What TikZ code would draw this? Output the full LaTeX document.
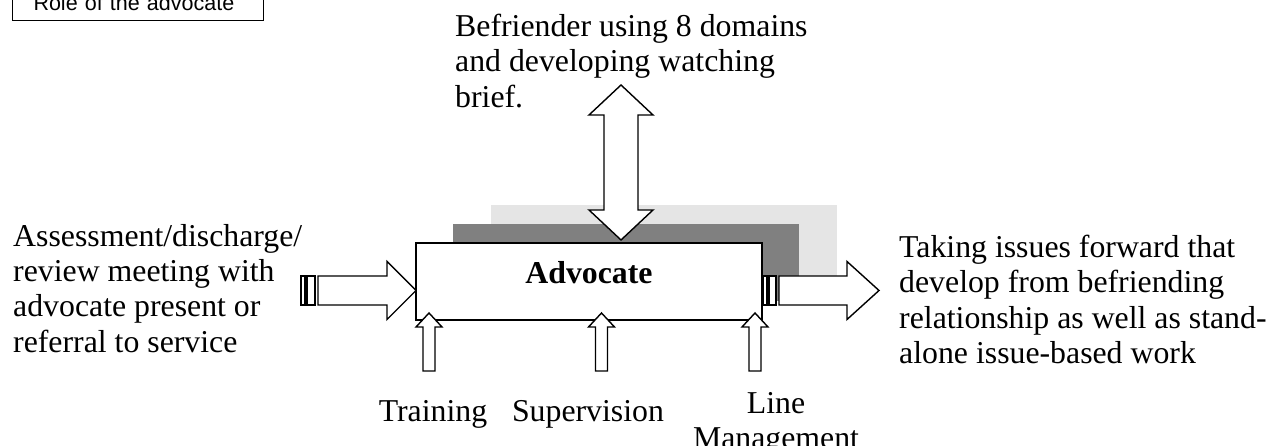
\documentclass[tikz,border=0pt]{standalone}
\usepackage{fontspec}
\setmainfont{Liberation Serif}
\newfontfamily\arialfont{Liberation Sans}
\usetikzlibrary{positioning,calc}

\tikzset{
  mainbox/.style={rectangle, draw, line width=1.4pt, fill=white, minimum width=346pt, minimum height=77pt, inner sep=0pt},
  backbox/.style={rectangle, minimum width=346pt, minimum height=77pt, inner sep=0pt},
  blockarrow/.style={draw, fill=white, line width=1.4pt, line join=miter},
  txt/.style={font=\fontsize{31.8}{35.3}\selectfont, inner sep=0pt, align=left},
}

% tail, angle, length, shaft half, head half, head length
\newcommand{\fatarrow}[6]{%
  \draw[blockarrow, shift={#1}, rotate=#2]
    (0,-#4) -- (#3-#6,-#4) -- (#3-#6,-#5) -- (#3,0) -- (#3-#6,#5) -- (#3-#6,#4) -- (0,#4) -- cycle;}

\begin{document}
\begin{tikzpicture}[x=1pt, y=1pt]
  \useasboundingbox (0,0) rectangle (1268,446);

  \node[draw, line width=1pt, anchor=south west, minimum width=251pt, minimum height=36pt,
        inner xsep=21pt, text width=209pt, align=left,
        font=\arialfont\fontsize{21.5}{24}\selectfont] (title) at (12,425) {Role of the advocate};

  % stacked boxes
  \coordinate (advc) at (589,164.5);
  \node[backbox, fill=black!10] (back2) at ([shift={(75,38)}]advc) {};
  \node[backbox, fill=black!50] (back1) at ([shift={(37,19)}]advc) {};
  \node[mainbox] (adv) at (advc) {};
  \node[txt, anchor=base] (advtxt) at (589,162) {\bfseries Advocate};

  % in and out
  \coordinate (inL) at (318,155.5);
  \coordinate (outR) at (779,155.5);
  \fatarrow{(inL)}{0}{98}{14.5}{29}{29}
  \fatarrow{(outR)}{0}{100}{14.5}{29}{32}
  \draw[blockarrow] (301,141) rectangle (305,170);
  \draw[blockarrow] (307,141) rectangle (315,170);
  \draw[blockarrow] (763,141) rectangle (767,170);
  \draw[blockarrow] (769,141) rectangle (776,170);

  % befriender double arrow
  \coordinate (dbot) at (621,206);
  \draw[blockarrow, shift={(dbot)}] (0,0) -- (32,30) -- (17,30) -- (17,125) -- (32,125) -- (0,155)
    -- (-32,125) -- (-17,125) -- (-17,30) -- (-32,30) -- cycle;

  % support arrows
  \foreach \x in {429,601.5,755}{
    \fatarrow{(\x,75)}{90}{58}{6}{13}{14}
  }

  \node[txt, anchor=north west] (befr) at (455,432) {Befriender using 8 domains\\and developing watching\\brief.};
  \node[txt, anchor=north west] (assess) at (13,222) {Assessment/discharge/\\review meeting with\\advocate present or\\referral to service};
  \node[txt, anchor=north west] (issues) at (899,211) {Taking issues forward that\\develop from befriending\\relationship as well as stand-\\alone issue-based work};

  \node[txt, anchor=base] (train) at (433,24) {Training};
  \node[txt, anchor=base] (superv) at (588,24) {Supervision};
  \node[txt, anchor=north, align=center] (lineman) at (776,54) {Line\\Management};
\end{tikzpicture}
\end{document}
